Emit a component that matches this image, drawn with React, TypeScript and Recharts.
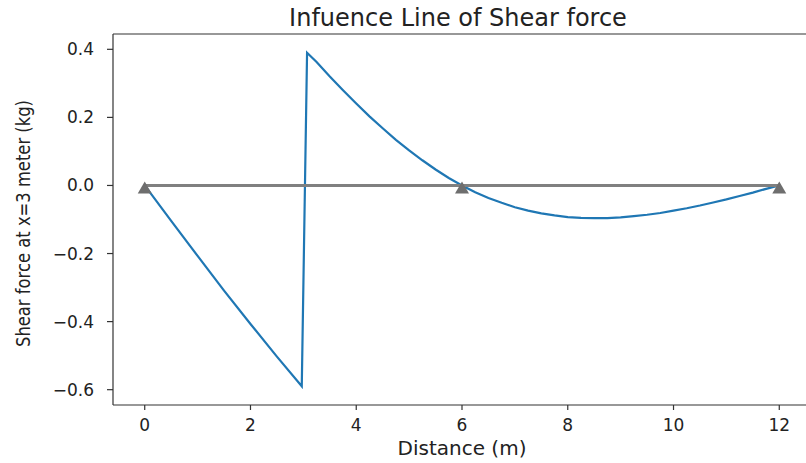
import { LineChart, Line, XAxis, YAxis, Label, ReferenceLine } from 'recharts'

const distance = [
  0, 0.5, 1, 1.5, 2, 2.5, 2.97, 3.07, 3.25, 3.5, 3.75, 4, 4.25, 4.5, 4.75, 5, 5.25, 5.5, 5.75, 6,
  6.25, 6.5, 6.75, 7, 7.25, 7.5, 7.75, 8, 8.25, 8.5, 8.75, 9, 9.25, 9.5, 9.75, 10, 10.25, 10.5,
  10.75, 11, 11.25, 11.5, 11.75, 12,
]
const shear = [
  0, -0.104, -0.207, -0.309, -0.407, -0.503, -0.59, 0.39, 0.363, 0.32, 0.28, 0.241, 0.203, 0.168,
  0.134, 0.103, 0.074, 0.047, 0.022, 0, -0.02, -0.037, -0.051, -0.064, -0.074, -0.082, -0.088,
  -0.093, -0.095, -0.096, -0.096, -0.094, -0.09, -0.086, -0.081, -0.074, -0.067, -0.059, -0.05,
  -0.041, -0.031, -0.021, -0.01, 0,
]
const supportX = [0, 6, 12]
const supportY = [0, 0, 0]
const xTicks = [0, 2, 4, 6, 8, 10, 12]
const yTicks = [-0.6, -0.4, -0.2, 0, 0.2, 0.4]
const yDomain = [-0.645, 0.445]

const shearData = distance.map((x, i) => ({ x, v: shear[i] }))
const beamData = supportX.map((x, i) => ({ x, y: supportY[i] }))

const FONT = '"DejaVu Sans", sans-serif'
const AXIS = '#333'
const TEXT = '#222'

function fmtY(v: number) {
  return v < 0 ? `\u2212${Math.abs(v).toFixed(1)}` : v.toFixed(1)
}

function Triangle(props: { cx?: number; cy?: number; index?: number }) {
  const { cx, cy, index } = props
  if (cx == null || cy == null) return null
  return (
    <polygon
      key={`tri-${index}`}
      points={`${cx},${cy - 4} ${cx - 7},${cy + 8} ${cx + 7},${cy + 8}`}
      fill="#6e6e6e"
    />
  )
}

export default function App() {
  return (
    <div
      style={{
        position: 'fixed',
        left: 0,
        top: 0,
        width: 806,
        height: 463,
        overflow: 'hidden',
        background: '#fff',
      }}
    >
      <LineChart width={830} height={463} margin={{ top: 34, right: 19, bottom: 28, left: 13 }}>
        <XAxis
          dataKey="x"
          type="number"
          domain={[-0.6, 12.6]}
          ticks={xTicks}
          allowDataOverflow
          height={30}
          tickSize={5}
          tickMargin={9}
          stroke={AXIS}
          strokeWidth={1.2}
          tick={{ fontSize: 17, fill: TEXT, fontFamily: FONT }}
        >
          <Label
            content={() => (
              <text x={462} y={455} textAnchor="middle" fontSize={20} fill={TEXT} fontFamily={FONT}>
                Distance (m)
              </text>
            )}
          />
        </XAxis>
        <YAxis
          type="number"
          domain={yDomain}
          ticks={yTicks}
          allowDataOverflow
          width={100}
          tickSize={6}
          tickMargin={13}
          tickFormatter={fmtY}
          stroke={AXIS}
          strokeWidth={1.2}
          tick={{ fontSize: 17, fill: TEXT, fontFamily: FONT }}
        >
          <Label
            content={() => (
              <text
                x={30}
                y={223.5}
                transform="rotate(-90 30 223.5)"
                textAnchor="middle"
                fontSize={19}
                textLength={247}
                lengthAdjust="spacingAndGlyphs"
                fill={TEXT}
                fontFamily={FONT}
              >
                Shear force at x=3 meter (kg)
              </text>
            )}
          />
        </YAxis>
        {/* top spine + title */}
        <ReferenceLine y={yDomain[1]} stroke={AXIS} strokeWidth={1.2} ifOverflow="visible">
          <Label
            content={() => (
              <text x={458} y={26} textAnchor="middle" fontSize={24} fill={TEXT} fontFamily={FONT}>
                Infuence Line of Shear force
              </text>
            )}
          />
        </ReferenceLine>
        <Line
          data={shearData}
          dataKey="v"
          type="linear"
          stroke="#1f77b4"
          strokeWidth={2.2}
          dot={false}
          activeDot={false}
          isAnimationActive={false}
        />
        <Line
          data={beamData}
          dataKey="y"
          type="linear"
          stroke="none"
          dot={<Triangle />}
          activeDot={false}
          isAnimationActive={false}
        />
        <Line
          data={beamData}
          dataKey="y"
          type="linear"
          stroke="#808080"
          strokeWidth={3}
          dot={false}
          activeDot={false}
          isAnimationActive={false}
        />
      </LineChart>
    </div>
  )
}
